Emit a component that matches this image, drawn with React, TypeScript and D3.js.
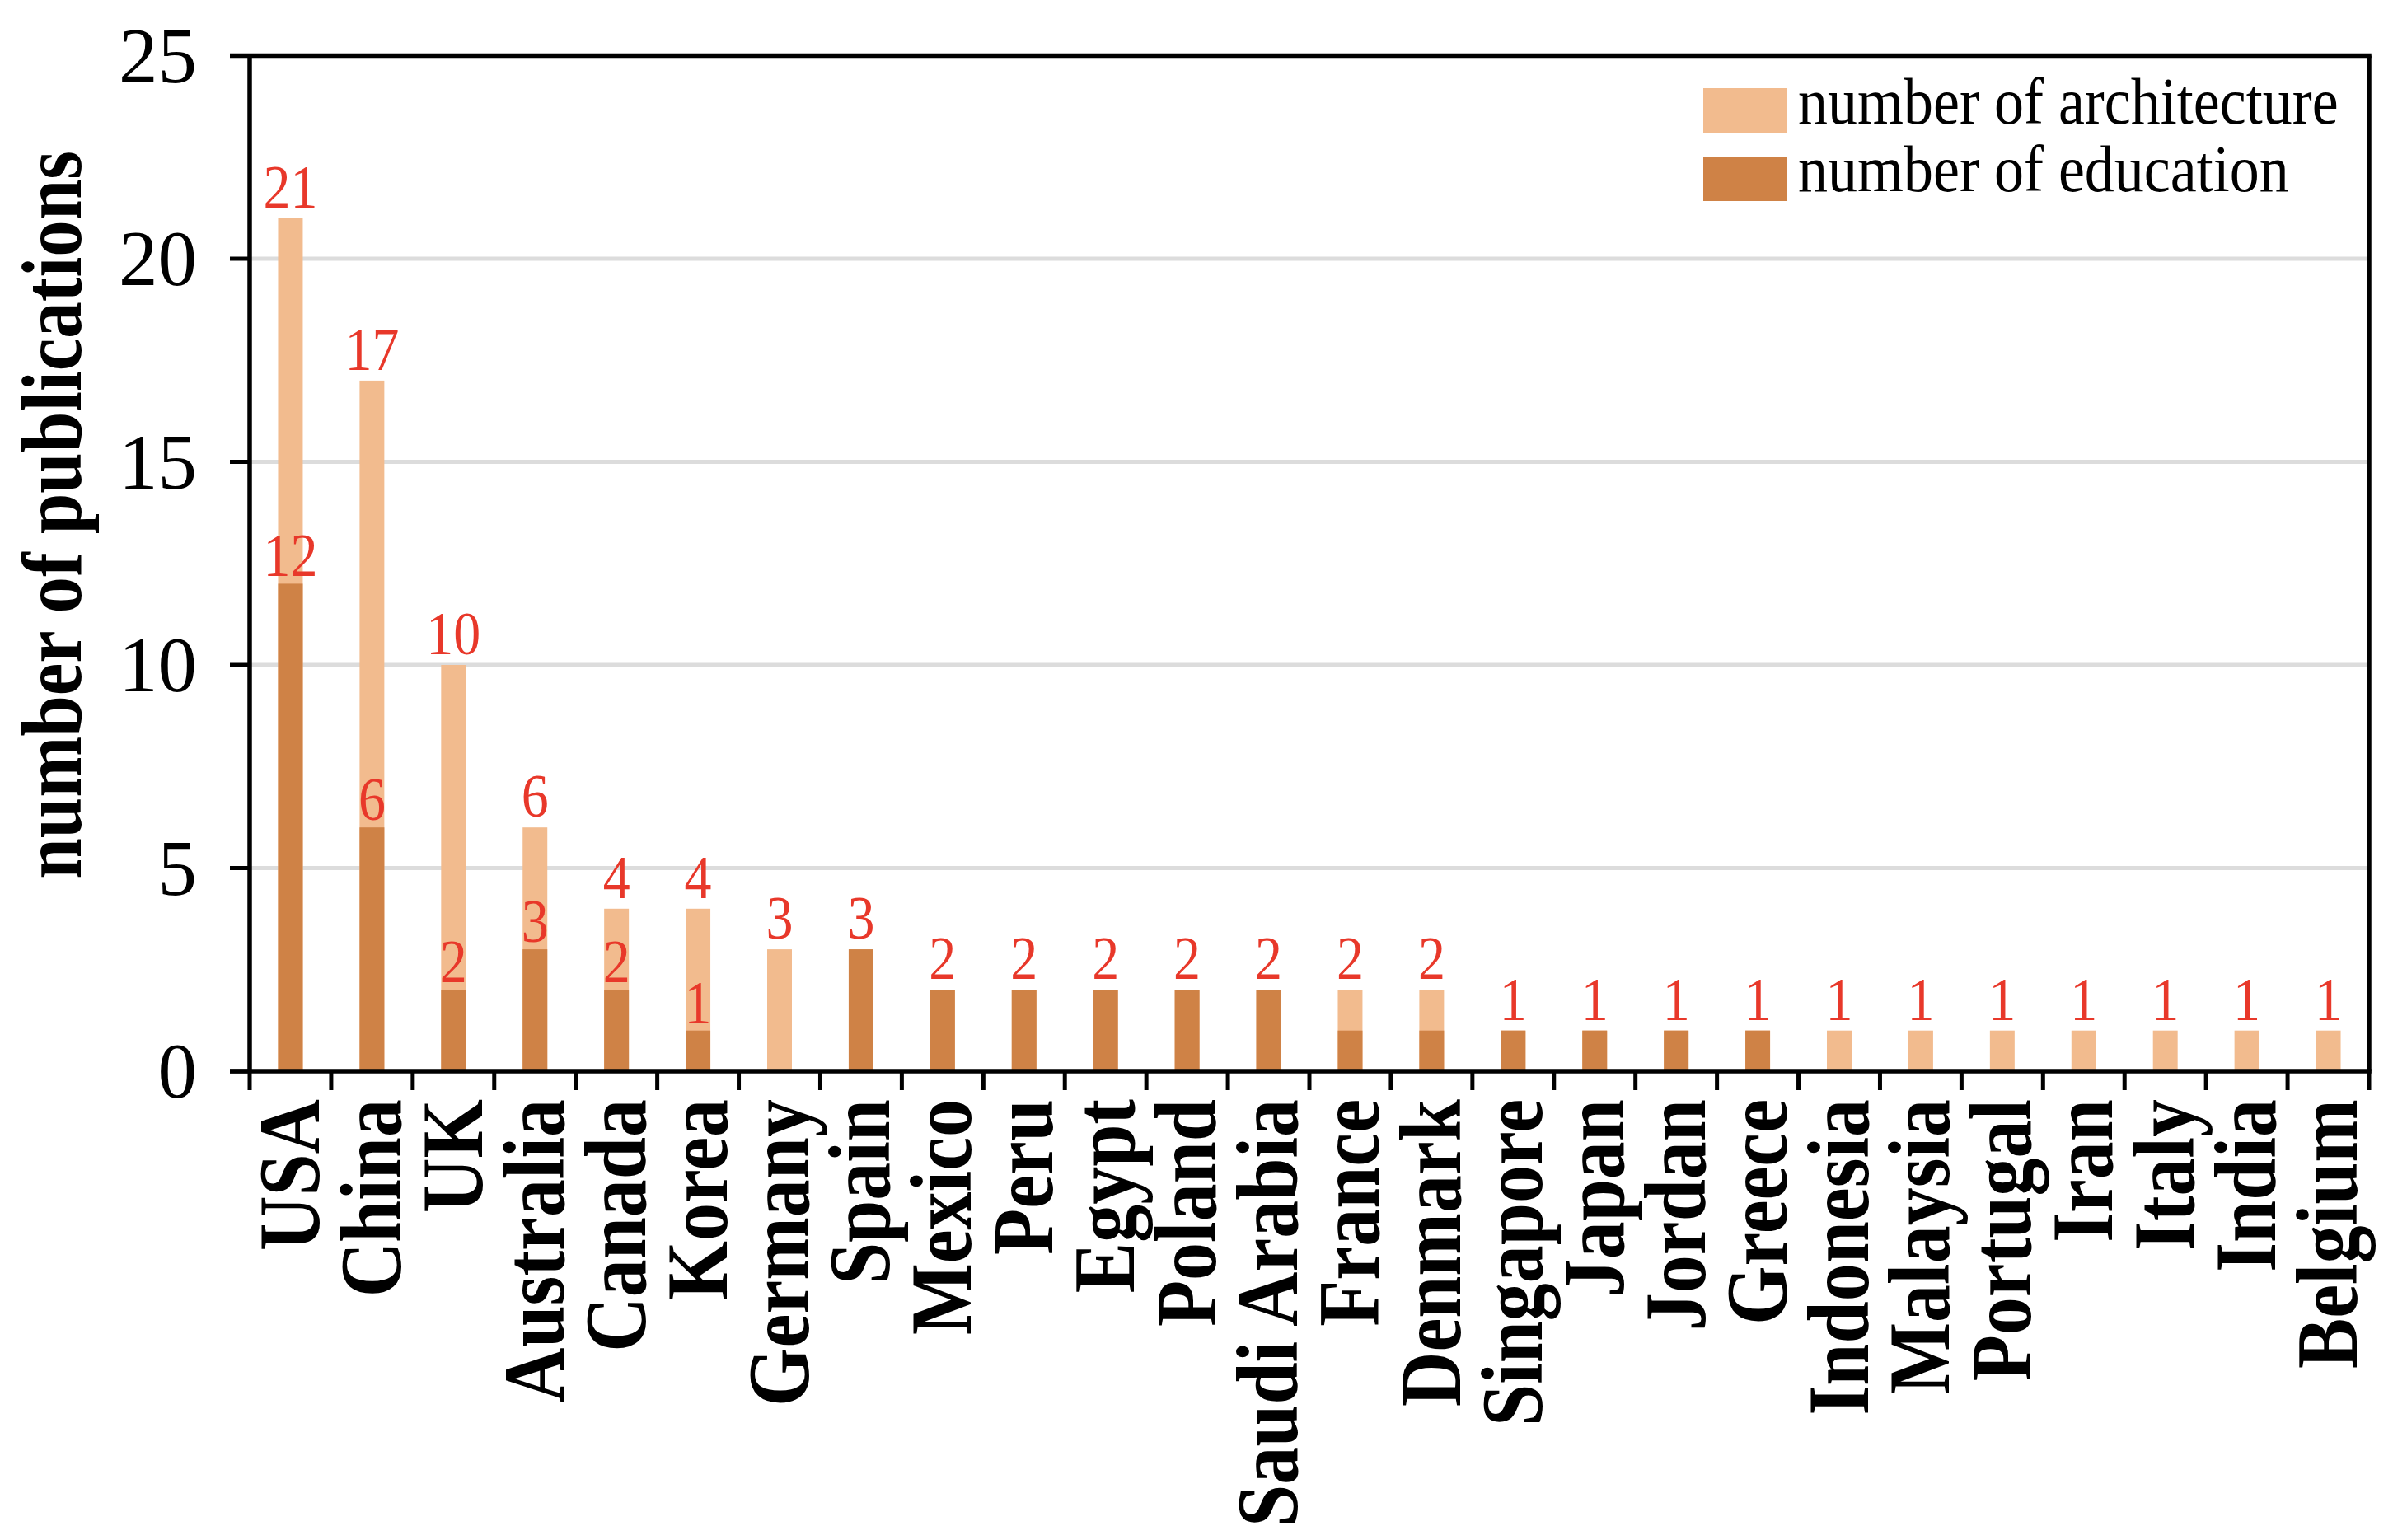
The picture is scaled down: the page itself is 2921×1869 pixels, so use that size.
import * as d3 from "d3";

const WIDTH = 2921;
const HEIGHT = 1869;

const COUNTRIES = [
  "USA", "China", "UK", "Australia", "Canada", "Korea", "Germany", "Spain",
  "Mexico", "Peru", "Egypt", "Poland", "Saudi Arabia", "France", "Denmark",
  "Singapore", "Japan", "Jordan", "Greece", "Indonesia", "Malaysia",
  "Portugal", "Iran", "Italy", "India", "Belgium",
];

// light bars (drawn behind)
const ARCHITECTURE = [21, 17, 10, 6, 4, 4, 3, 3, 2, 2, 2, 2, 2, 2, 2, 1, 1, 1, 1, 1, 1, 1, 1, 1, 1, 1];
// dark bars (drawn in front)
const EDUCATION = [12, 6, 2, 3, 2, 1, 0, 3, 2, 2, 2, 2, 2, 1, 1, 1, 1, 1, 1, 0, 0, 0, 0, 0, 0, 0];

// countries where the education value gets its own red label
const EDU_LABELED = ["USA", "China", "UK", "Australia", "Canada", "Korea"];

const Y_TICKS = [0, 5, 10, 15, 20, 25];

const LIGHT = "#F2BB8E";
const DARK = "#CF8246";
const RED = "#E8382A";
const GRID = "#DCDCDC";
const SERIF = "'Liberation Serif', 'Times New Roman', serif";

const PLOT = { left: 303, right: 2875, top: 67.5, bottom: 1300 };

export default function App() {
  const x = d3
    .scaleBand<string>()
    .domain(COUNTRIES)
    .range([PLOT.left, PLOT.right])
    .paddingInner(0)
    .paddingOuter(0);
  const band = x.bandwidth();
  const barW = band * 0.303;

  const y = d3.scaleLinear().domain([0, 25]).range([PLOT.bottom, PLOT.top]);

  const cx = (c: string) => (x(c) ?? 0) + band / 2;

  // tick boundaries between categories, including both ends
  const xBounds = d3.range(COUNTRIES.length + 1).map((i) => PLOT.left + i * band);

  const frameW = 5.5;
  const tickFont = 95;

  return (
    <>
      <style>{`body{margin:0;background:#fff}`}</style>
      <svg width={WIDTH} height={HEIGHT} style={{ display: "block", background: "#fff" }}>
        {/* gridlines */}
        {Y_TICKS.filter((t) => t > 0 && t < 25).map((t) => (
          <line key={`g${t}`} x1={PLOT.left} x2={PLOT.right} y1={y(t)} y2={y(t)} stroke={GRID} strokeWidth={5} />
        ))}

        {/* architecture bars */}
        {COUNTRIES.map((c, i) => (
          <rect key={`a${c}`} x={cx(c) - barW / 2} y={y(ARCHITECTURE[i])} width={barW} height={y(0) - y(ARCHITECTURE[i])} fill={LIGHT} />
        ))}
        {/* education bars */}
        {COUNTRIES.map((c, i) =>
          EDUCATION[i] > 0 ? (
            <rect key={`e${c}`} x={cx(c) - barW / 2} y={y(EDUCATION[i])} width={barW} height={y(0) - y(EDUCATION[i])} fill={DARK} />
          ) : null,
        )}

        {/* value labels */}
        {COUNTRIES.map((c, i) => (
          <text
            key={`la${c}`}
            transform={`translate(${cx(c)},${y(ARCHITECTURE[i]) - 13}) scale(1,1.12)`}
            textAnchor="middle"
            fontFamily={SERIF}
            fontSize={66}
            fill={RED}
          >
            {ARCHITECTURE[i]}
          </text>
        ))}
        {COUNTRIES.map((c, i) =>
          EDU_LABELED.includes(c) ? (
            <text
              key={`le${c}`}
              transform={`translate(${cx(c)},${y(EDUCATION[i]) - 9}) scale(1,1.12)`}
              textAnchor="middle"
              fontFamily={SERIF}
              fontSize={66}
              fill={RED}
            >
              {EDUCATION[i]}
            </text>
          ) : null,
        )}

        {/* frame */}
        <line x1={PLOT.left - 24} x2={PLOT.right + frameW / 2} y1={PLOT.top} y2={PLOT.top} stroke="#000" strokeWidth={frameW} />
        <line x1={PLOT.right} x2={PLOT.right} y1={PLOT.top} y2={PLOT.bottom} stroke="#000" strokeWidth={frameW} />
        <line x1={PLOT.left} x2={PLOT.left} y1={PLOT.top} y2={PLOT.bottom} stroke="#000" strokeWidth={frameW} />
        <line x1={PLOT.left - 24} x2={PLOT.right + frameW / 2} y1={PLOT.bottom} y2={PLOT.bottom} stroke="#000" strokeWidth={frameW} />

        {/* y ticks + labels */}
        {Y_TICKS.map((t) => (
          <g key={`yt${t}`}>
            <line x1={PLOT.left - 24} x2={PLOT.left} y1={y(t)} y2={y(t)} stroke="#000" strokeWidth={5} />
            <text
              x={239}
              y={y(t) + tickFont * 0.338}
              textAnchor="end"
              fontFamily={SERIF}
              fontSize={tickFont}
              fill="#000"
            >
              {t}
            </text>
          </g>
        ))}

        {/* x ticks */}
        {xBounds.map((bx, i) => (
          <line key={`xt${i}`} x1={bx} x2={bx} y1={PLOT.bottom} y2={PLOT.bottom + 23} stroke="#000" strokeWidth={5} />
        ))}

        {/* x labels */}
        {COUNTRIES.map((c) => (
          <text
            key={`xl${c}`}
            transform={`translate(${cx(c) + 34.5},1334) rotate(-90) scale(1,1.14)`}
            textAnchor="end"
            fontFamily={SERIF}
            fontWeight="bold"
            fontSize={92}
            fill="#000"
          >
            {c}
          </text>
        ))}

        {/* y axis title */}
        <text
          transform="translate(98,625) rotate(-90) scale(1,1.17)"
          textAnchor="middle"
          fontFamily={SERIF}
          fontWeight="bold"
          fontSize={89}
          fill="#000"
        >
          number of publications
        </text>

        {/* legend */}
        <rect x={2067} y={107} width={101} height={55} fill={LIGHT} />
        <rect x={2067} y={190} width={101} height={54} fill={DARK} />
        <text transform="translate(2182,150) scale(1,1.12)" fontFamily={SERIF} fontSize={72} fill="#000">
          number of architecture
        </text>
        <text transform="translate(2182,232) scale(1,1.12)" fontFamily={SERIF} fontSize={72} fill="#000">
          number of education
        </text>
      </svg>
    </>
  );
}
